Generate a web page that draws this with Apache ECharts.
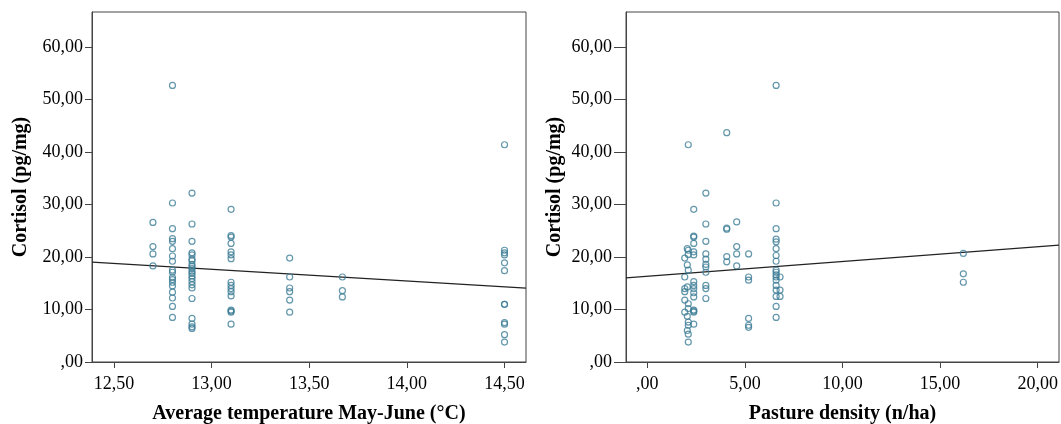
<!DOCTYPE html>
<html>
<head>
<meta charset="utf-8">
<script src="https://cdn.jsdelivr.net/npm/echarts@6/dist/echarts.min.js"></script>
<style>
  html, body { margin: 0; padding: 0; background: #fff; }
  #chart { width: 1061px; height: 424px; }
</style>
</head>
<body>
<div id="chart"></div>
<script>
// left panel: temperature columns (x) and cortisol values in each column
var tempX = [12.7, 12.8, 12.9, 13.1, 13.4, 13.67, 14.5];
var tempCol127 = [26.6, 22.0, 20.6, 18.3];
var tempCol128 = [52.7, 30.3, 25.4, 23.5, 23.0, 21.6, 20.2, 19.2, 17.5, 17.1, 16.1, 15.7, 15.2, 14.5, 13.3, 12.2, 10.6, 8.5];
var tempCol129 = [32.2, 26.3, 23.0, 20.8, 20.4, 19.6, 19.3, 18.6, 18.2, 17.8, 17.3, 16.9, 16.4, 15.9, 15.3, 14.7, 14.1, 12.1, 8.3, 7.2, 6.7, 6.4];
var tempCol131 = [29.1, 24.1, 23.8, 22.6, 21.0, 20.4, 19.7, 15.2, 14.6, 14.0, 13.4, 12.6, 9.9, 9.7, 9.5, 7.2];
var tempCol134 = [19.8, 16.2, 14.1, 13.4, 11.8, 9.5];
var tempCol1367 = [16.2, 13.6, 12.4];
var tempCol145 = [41.4, 21.3, 20.8, 20.4, 18.9, 17.4, 11.0, 11.0, 7.5, 7.2, 5.2, 3.8];
var tempFit = [[12.388, 19.05], [14.61, 14.07]];

// right panel: pasture density columns and cortisol values
var densX = [1.92, 2.05, 2.10, 2.38, 3.0, 4.07, 4.58, 5.19, 6.6, 6.8, 16.19];
var densCol192 = [19.8, 16.2, 14.0, 13.4, 11.8, 9.5];
var densCol205 = [21.6, 18.5, 14.3, 8.7, 6.0];
var densCol210 = [41.4, 21.3, 20.5, 17.5, 11.1, 10.2, 7.6, 7.0, 5.3, 3.8];
var densCol238 = [29.1, 24.0, 23.8, 22.6, 21.0, 20.4, 15.3, 14.6, 14.0, 13.2, 12.4, 9.9, 9.7, 9.5, 7.2];
var densCol300 = [32.2, 26.3, 23.0, 20.6, 19.6, 18.6, 18.1, 17.1, 14.6, 14.0, 12.1];
var densCol407 = [43.7, 25.5, 25.3, 20.1, 19.1];
var densCol458 = [26.7, 22.0, 20.6, 18.3];
var densCol519 = [20.6, 16.2, 15.6, 8.3, 7.0, 6.6];
var densCol660 = [52.7, 30.3, 25.4, 23.4, 22.9, 21.6, 20.3, 19.2, 17.5, 17.1, 16.6, 16.2, 15.6, 14.6, 13.7, 12.5, 10.6, 8.5];
var densCol680 = [16.2, 13.7, 12.5];
var densCol1619 = [20.7, 16.8, 15.2];
var densFit = [[-1.09, 16.05], [21.09, 22.26]];

// tick labels
var yTicks = [0, 10, 20, 30, 40, 50, 60];
var tempTicks = [12.5, 13.0, 13.5, 14.0, 14.5];
var densTicks = [0, 5, 10, 15, 20];

var tempCols = [tempCol127, tempCol128, tempCol129, tempCol131, tempCol134, tempCol1367, tempCol145];
var densCols = [densCol192, densCol205, densCol210, densCol238, densCol300, densCol407, densCol458, densCol519, densCol660, densCol680, densCol1619];

function toPoints(xs, cols) {
    var pts = [];
    for (var i = 0; i < xs.length; i++) {
        for (var j = 0; j < cols[i].length; j++) {
            pts.push([xs[i], cols[i][j]]);
        }
    }
    return pts;
}

// SPSS style numbers: 12,50 and ,00
function fmt(v) {
    var s = v.toFixed(2).replace('.', ',');
    if (s.indexOf('0,') === 0) s = s.substring(1);
    return s;
}

var serif = 'Liberation Serif';
var axisColor = '#444';
var dotColor = '#3d7d96';

function xAxisOpt(idx, min, max, ticks, name) {
    return {
        type: 'value', gridIndex: idx, min: min, max: max,
        name: name, nameLocation: 'middle', nameGap: 42,
        nameTextStyle: { fontFamily: serif, fontWeight: 'bold', fontSize: 20, color: '#000' },
        axisLine: { show: true, onZero: false, lineStyle: { color: axisColor, width: 1 } },
        axisTick: { show: true, length: 6, customValues: ticks, lineStyle: { color: axisColor } },
        axisLabel: { customValues: ticks, formatter: fmt, margin: 13, fontFamily: serif, fontSize: 18, color: '#000' },
        splitLine: { show: false }
    };
}

function yAxisOpt(idx, tickLen) {
    return {
        type: 'value', gridIndex: idx, min: 0, max: 66.7,
        name: 'Cortisol (pg/mg)', nameLocation: 'middle', nameGap: 61,
        nameTextStyle: { fontFamily: serif, fontWeight: 'bold', fontSize: 20, color: '#000' },
        axisLine: { show: true, onZero: false, lineStyle: { color: axisColor, width: 1 } },
        axisTick: { show: true, length: tickLen, customValues: yTicks, lineStyle: { color: axisColor } },
        axisLabel: { customValues: yTicks, formatter: fmt, margin: tickLen + 2, fontFamily: serif, fontSize: 18, color: '#000' },
        splitLine: { show: false }
    };
}

function scatterOpt(idx, data) {
    return {
        type: 'scatter', xAxisIndex: idx, yAxisIndex: idx,
        data: data, symbol: 'circle', symbolSize: 6,
        itemStyle: { color: 'rgba(0,0,0,0)', borderColor: dotColor, borderWidth: 1.2 },
        silent: true, z: 3
    };
}

function fitOpt(idx, data) {
    return {
        type: 'line', xAxisIndex: idx, yAxisIndex: idx,
        data: data, showSymbol: false, symbol: 'none',
        lineStyle: { color: '#222', width: 1.2 },
        silent: true, z: 2, clip: true
    };
}

var myChart = echarts.init(document.getElementById('chart'), null, { renderer: 'canvas' });
myChart.setOption({
    animation: false,
    backgroundColor: '#fff',
    grid: [
        { left: 92, top: 12, width: 434, height: 350, outerBoundsMode: 'none', containLabel: false,
          show: true, borderColor: axisColor, borderWidth: 1, backgroundColor: '#fff' },
        { left: 626, top: 12, width: 433, height: 350, outerBoundsMode: 'none', containLabel: false,
          show: true, borderColor: axisColor, borderWidth: 1, backgroundColor: '#fff' }
    ],
    xAxis: [
        xAxisOpt(0, 12.388, 14.61, tempTicks, 'Average temperature May-June (°C)'),
        xAxisOpt(1, -1.09, 21.09, densTicks, 'Pasture density (n/ha)')
    ],
    yAxis: [
        yAxisOpt(0, 7),
        yAxisOpt(1, 12)
    ],
    series: [
        scatterOpt(0, toPoints(tempX, tempCols)),
        fitOpt(0, tempFit),
        scatterOpt(1, toPoints(densX, densCols)),
        fitOpt(1, densFit)
    ]
});
</script>
</body>
</html>
